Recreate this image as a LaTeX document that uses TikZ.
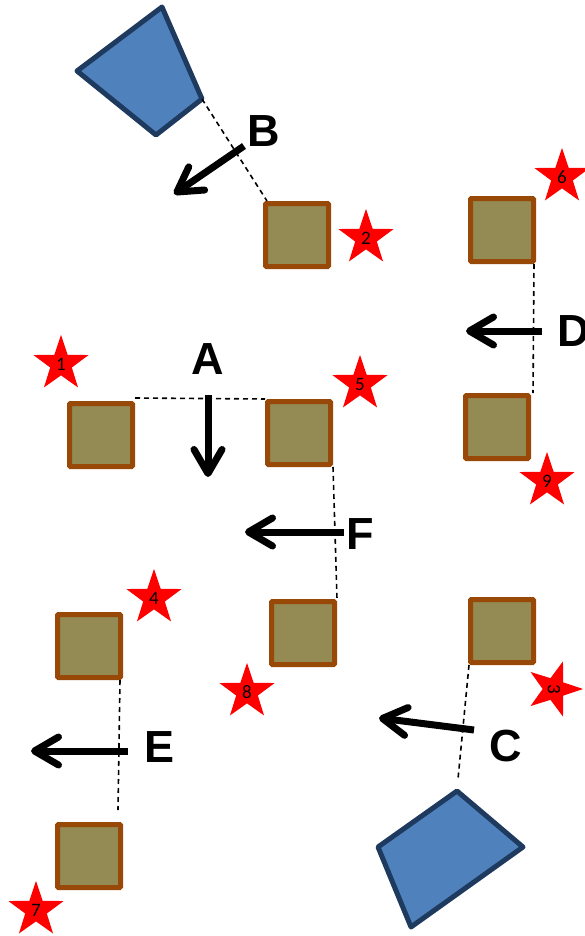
\documentclass[tikz,border=0pt]{standalone}
\usepackage{fontspec}
\setmainfont{Liberation Sans}
\newfontfamily\numfont{Carlito}
\usetikzlibrary{shapes.geometric,arrows.meta}

\definecolor{olivefill}{HTML}{948A54}
\definecolor{brownline}{HTML}{984807}
\definecolor{bluefill}{HTML}{4F81BD}
\definecolor{blueline}{HTML}{1F3A5F}

\begin{document}
\begin{tikzpicture}[x=1pt,y=-1pt,
  box/.style={draw=brownline,fill=olivefill,line width=5pt,minimum size=63pt,inner sep=0pt,rounded corners=1pt},
  starmark/.style={star,star points=5,star point ratio=2.55,fill=red,minimum size=58pt,inner sep=0pt,font=\numfont\fontsize{19}{19}\selectfont},
  letter/.style={inner sep=0pt,font=\bfseries\fontsize{45}{45}\selectfont},
  move/.style={line width=7pt,-{Straight Barb[length=24pt,width=28pt,round]}},
  link/.style={line width=1.6pt,dash pattern=on 5pt off 4pt},
  lens/.style={draw=blueline,fill=bluefill,line width=5pt,line join=round}]
%\draw[step=50,gray,very thin] (0,0) grid (584,936); %background grid

\useasboundingbox (0,0) rectangle (584,936);

\coordinate (t1a) at (77,71);
\coordinate (t1b) at (162,7);
\coordinate (t1c) at (202,99);
\coordinate (t1d) at (156,135);
\coordinate (t2a) at (457,791);
\coordinate (t2b) at (523,847);
\coordinate (t2c) at (411,927);
\coordinate (t2d) at (378,847);
\coordinate (gapC) at (458,779);

\draw[lens] (t1a)--(t1b)--(t1c)--(t1d)--cycle;
\draw[lens] (t2a)--(t2b)--(t2c)--(t2d)--cycle;

\node[box] (sq1) at (101,435) {};
\node[box] (sq2) at (297,235) {};
\node[box] (sq3) at (502,631) {};
\node[box] (sq4) at (89,646) {};
\node[box] (sq5) at (299,433) {};
\node[box] (sq6) at (502,230) {};
\node[box] (sq7) at (89,856) {};
\node[box] (sq8) at (303,633) {};
\node[box] (sq9) at (497,427) {};

\node[starmark] (st1) at (61,364) {1};
\node[starmark] (st2) at (366,238) {2};
\node[starmark,rotate=-90] (st3) at (554,689) {3};
\node[starmark] (st4) at (154,598) {4};
\node[starmark] (st5) at (360,384) {5};
\node[starmark] (st6) at (562,177) {6};
\node[starmark] (st7) at (36,910) {7};
\node[starmark] (st8) at (247,692) {8};
\node[starmark] (st9) at (547,481) {9};

\draw[link] (t1c) -- ([xshift=4pt]sq2.north west);
\draw[link] ([yshift=3pt]sq1.north east) -- (sq5.north west);
\draw[link] (sq5.south east) -- (sq8.north east);
\draw[link] ([xshift=-2pt]sq6.south east) -- ([xshift=2pt]sq9.north east);
\draw[link] ([xshift=-3pt]sq4.south east) -- ([shift={(-5pt,12pt)}]sq7.north east);
\draw[link] ([xshift=1pt]sq3.south west) -- (gapC);

\node[letter] (A) at (208,359) {A};
\node[letter] (B) at (264,131) {B};
\node[letter] (C) at (506,746) {C};
\node[letter] (D) at (574,331) {D};
\node[letter] (E) at (160,747) {E};
\node[letter] (F) at (360,534) {F};

\draw[move] (208,395) -- (208,477);
\draw[move] (244,146) -- (174,194);
\draw[move] (474,730) -- (379,718);
\draw[move] (542,331) -- (466,331);
\draw[move] (128,751) -- (31,751);
\draw[move] (344,532) -- (245,532);

\end{tikzpicture}
\end{document}
